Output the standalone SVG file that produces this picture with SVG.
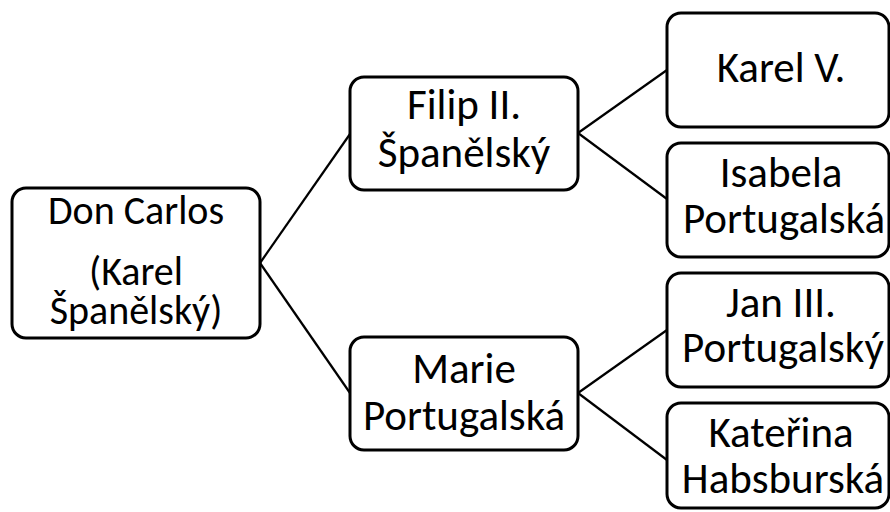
<svg xmlns="http://www.w3.org/2000/svg" width="890" height="512" viewBox="0 0 890 512">
  <style>
    .box { fill: #ffffff; stroke: #000000; stroke-width: 3; }
    .lbl { font-family: Carlito, Calibri, Lato, "Liberation Sans", sans-serif; font-size: 43px; fill: #000000; text-anchor: middle; }
    .small { font-size: 40px; }
    .link { fill: none; stroke: #000000; stroke-width: 2.2; }
  </style>
  <rect width="890" height="512" fill="#ffffff"/>
  <g id="connectors">
    <line class="link" x1="260" y1="263" x2="350" y2="134"/>
    <line class="link" x1="260" y1="263" x2="350" y2="393"/>
    <line class="link" x1="578" y1="133" x2="667" y2="70"/>
    <line class="link" x1="578" y1="133" x2="667" y2="199"/>
    <line class="link" x1="578" y1="393" x2="667" y2="330"/>
    <line class="link" x1="578" y1="393" x2="667" y2="460"/>
  </g>
  <g id="don-carlos">
    <rect class="box" x="12" y="188" width="248" height="150" rx="14"/>
    <text class="lbl small" x="136" y="224">Don Carlos</text>
    <text class="lbl small" x="136" y="285">(Karel</text>
    <text class="lbl small" x="136" y="324">Španělský)</text>
  </g>
  <g id="filip">
    <rect class="box" x="350" y="77" width="228" height="113" rx="14"/>
    <text class="lbl" x="464" y="119">Filip II.</text>
    <text class="lbl" x="464" y="167">Španělský</text>
  </g>
  <g id="marie">
    <rect class="box" x="350" y="337" width="228" height="113" rx="14"/>
    <text class="lbl" x="464" y="383">Marie</text>
    <text class="lbl" x="464" y="430">Portugalská</text>
  </g>
  <g id="karel">
    <rect class="box" x="667" y="13" width="222" height="114" rx="14"/>
    <text class="lbl" x="781" y="82">Karel V.</text>
  </g>
  <g id="isabela">
    <rect class="box" x="667" y="143" width="222" height="114" rx="14"/>
    <text class="lbl" x="781" y="187">Isabela</text>
    <text class="lbl" x="784" y="233">Portugalská</text>
  </g>
  <g id="jan">
    <rect class="box" x="667" y="273" width="222" height="114" rx="14"/>
    <text class="lbl" x="781" y="317">Jan III.</text>
    <text class="lbl" x="783" y="362">Portugalský</text>
  </g>
  <g id="katerina">
    <rect class="box" x="667" y="403" width="222" height="105" rx="14"/>
    <text class="lbl" x="781" y="447">Kateřina</text>
    <text class="lbl" x="783" y="493">Habsburská</text>
  </g>
</svg>
